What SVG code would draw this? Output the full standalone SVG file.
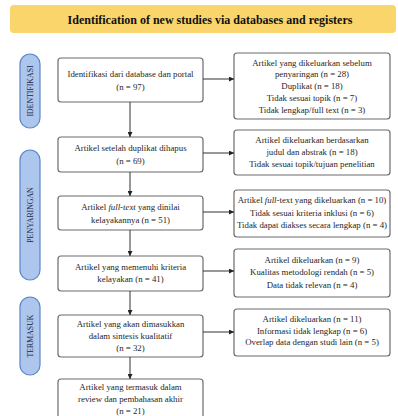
<svg xmlns="http://www.w3.org/2000/svg" width="398" height="416" viewBox="0 0 398 416">
<style>
.t{font-family:"Liberation Serif","Times New Roman",serif;font-size:8.8px;fill:#262626;text-anchor:middle}
.box{fill:#fff;stroke:#6b6b6b;stroke-width:1.2}
.pill{fill:#adc6ee;stroke:#5a86c8;stroke-width:1.2}
.pt{font-family:"Liberation Serif","Times New Roman",serif;font-size:7.8px;fill:#152a48;text-anchor:middle}
.c{stroke:#333;stroke-width:1;fill:none}
.i{font-style:italic}
</style>
<defs>
<marker id="ah" viewBox="0 0 10 10" refX="10" refY="5" markerWidth="5" markerHeight="5" orient="auto" markerUnits="userSpaceOnUse">
<path d="M0,0 L10,5 L0,10 z" fill="#222"/>
</marker>
</defs>
<rect width="398" height="416" fill="#fff"/>
<g id="title">
<rect x="10" y="5" width="386" height="28" rx="4" fill="#f9d56b"/>
<text x="210" y="23.5" style="font-family:'Liberation Serif','Times New Roman',serif;font-size:12px;font-weight:bold;fill:#111;text-anchor:middle">Identification of new studies via databases and registers</text>
</g>
<g id="pill-identifikasi">
<rect class="pill" x="20" y="54" width="20" height="74" rx="10"/>
<text class="pt" transform="translate(32.8,91) rotate(-90)">IDENTIFIKASI</text>
</g>
<g id="pill-penyaringan">
<rect class="pill" x="20" y="150" width="20" height="130" rx="10"/>
<text class="pt" transform="translate(32.8,215) rotate(-90)">PENYARINGAN</text>
</g>
<g id="pill-termasuk">
<rect class="pill" x="20" y="297" width="20" height="78" rx="10"/>
<text class="pt" transform="translate(32.8,336) rotate(-90)">TERMASUK</text>
</g>
<g id="n1">
<rect class="box" x="58" y="58" width="145" height="44" rx="3"/>
<text class="t" x="130.5" y="77">Identifikasi dari database dan portal</text>
<text class="t" x="130.5" y="90">(n = 97)</text>
</g>
<g id="n2">
<rect class="box" x="58" y="137" width="145" height="35" rx="3"/>
<text class="t" x="130.5" y="151">Artikel setelah duplikat dihapus</text>
<text class="t" x="130.5" y="164">(n = 69)</text>
</g>
<g id="n3">
<rect class="box" x="58" y="196" width="145" height="34" rx="3"/>
<text class="t" x="130.5" y="210">Artikel <tspan class="i">full-text</tspan> yang dinilai</text>
<text class="t" x="130.5" y="222.5">kelayakannya (n = 51)</text>
</g>
<g id="n4">
<rect class="box" x="58" y="256" width="145" height="35" rx="3"/>
<text class="t" x="130.5" y="270">Artikel yang memenuhi kriteria</text>
<text class="t" x="130.5" y="282">kelayakan (n = 41)</text>
</g>
<g id="n5">
<rect class="box" x="58" y="315" width="145" height="42" rx="3"/>
<text class="t" x="130.5" y="327">Artikel yang akan dimasukkan</text>
<text class="t" x="130.5" y="339">dalam sintesis kualitatif</text>
<text class="t" x="130.5" y="351">(n = 32)</text>
</g>
<g id="n6">
<rect class="box" x="58" y="379" width="145" height="42" rx="3"/>
<text class="t" x="130.5" y="390">Artikel yang termasuk dalam</text>
<text class="t" x="130.5" y="402">review dan pembahasan akhir</text>
<text class="t" x="130.5" y="414">(n = 21)</text>
</g>
<g id="r1">
<rect class="box" x="234" y="53" width="156" height="66" rx="3"/>
<text class="t" x="312" y="66">Artikel yang dikeluarkan sebelum</text>
<text class="t" x="312" y="77">penyaringan (n = 28)</text>
<text class="t" x="312" y="88.5">Duplikat (n = 18)</text>
<text class="t" x="312" y="100.5">Tidak sesuai topik (n = 7)</text>
<text class="t" x="312" y="112.5">Tidak lengkap/full text (n = 3)</text>
</g>
<g id="r2">
<rect class="box" x="234" y="130" width="156" height="45" rx="3"/>
<text class="t" x="312" y="143">Artikel dikeluarkan berdasarkan</text>
<text class="t" x="312" y="154.5">judul dan abstrak (n = 18)</text>
<text class="t" x="312" y="166.5">Tidak sesuai topik/tujuan penelitian</text>
</g>
<g id="r3">
<rect class="box" x="234" y="190" width="156" height="47" rx="3"/>
<text class="t" x="312" y="203">Artikel <tspan class="i">full</tspan>-text yang dikeluarkan (n = 10)</text>
<text class="t" x="312" y="215.5">Tidak sesuai kriteria inklusi (n = 6)</text>
<text class="t" x="312" y="227.5">Tidak dapat diakses secara lengkap (n = 4)</text>
</g>
<g id="r4">
<rect class="box" x="234" y="249" width="156" height="48" rx="3"/>
<text class="t" x="312" y="263">Artikel dikeluarkan (n = 9)</text>
<text class="t" x="312" y="275">Kualitas metodologi rendah (n = 5)</text>
<text class="t" x="312" y="287.5">Data tidak relevan (n = 4)</text>
</g>
<g id="r5">
<rect class="box" x="234" y="309" width="156" height="47" rx="3"/>
<text class="t" x="312" y="321.5">Artikel dikeluarkan (n = 11)</text>
<text class="t" x="312" y="333.5">Informasi tidak lengkap (n = 6)</text>
<text class="t" x="312" y="345">Overlap data dengan studi lain (n = 5)</text>
</g>
<g id="connectors">
<line class="c" x1="130" y1="102" x2="130" y2="137" marker-end="url(#ah)"/>
<line class="c" x1="130" y1="172" x2="130" y2="196" marker-end="url(#ah)"/>
<line class="c" x1="130" y1="230" x2="130" y2="256" marker-end="url(#ah)"/>
<line class="c" x1="130" y1="291" x2="130" y2="315" marker-end="url(#ah)"/>
<line class="c" x1="130" y1="357" x2="130" y2="379" marker-end="url(#ah)"/>
<line class="c" x1="203" y1="79" x2="234" y2="79" marker-end="url(#ah)"/>
<line class="c" x1="203" y1="153" x2="234" y2="153" marker-end="url(#ah)"/>
<line class="c" x1="203" y1="212" x2="234" y2="212" marker-end="url(#ah)"/>
<line class="c" x1="203" y1="271" x2="234" y2="271" marker-end="url(#ah)"/>
<line class="c" x1="203" y1="332" x2="234" y2="332" marker-end="url(#ah)"/>
</g>
</svg>
